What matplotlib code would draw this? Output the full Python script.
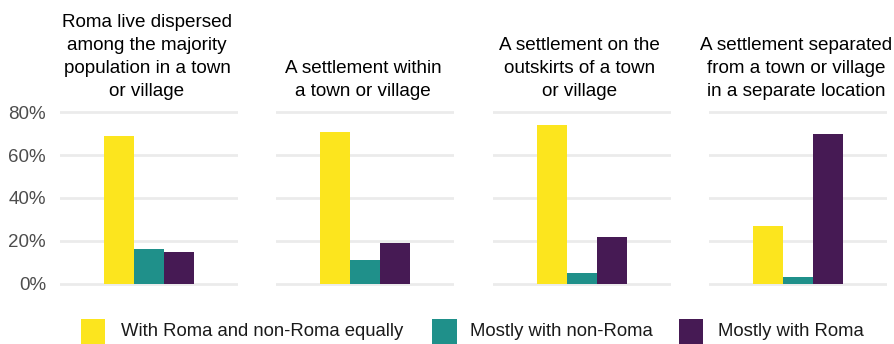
import matplotlib
matplotlib.use("Agg")
import matplotlib.pyplot as plt
from matplotlib.patches import Rectangle

plt.rcParams['font.family'] = ['Liberation Sans', 'DejaVu Sans']

panels = [
    "Roma live dispersed\namong the majority\npopulation in a town\nor village",
    "A settlement within\na town or village",
    "A settlement on the\noutskirts of a town\nor village",
    "A settlement separated\nfrom a town or village\nin a separate location",
]
series = ["With Roma and non-Roma equally", "Mostly with non-Roma", "Mostly with Roma"]
equally = [69, 71, 74, 27]
non_roma = [16, 11, 5, 3]
roma = [15, 19, 22, 70]
yticks = [0, 20, 40, 60, 80]
ytick_labels = ["0%", "20%", "40%", "60%", "80%"]

colors = ["#FCE51E", "#1F908A", "#461A54"]
values = [equally, non_roma, roma]

W, H = 895, 344
fig = plt.figure(figsize=(W / 100, H / 100), dpi=100)

ax_bottom_px = 285.8
ax_top_px = 110.2
ax_h = (ax_bottom_px - ax_top_px) / H
ax_b = 1 - ax_bottom_px / H
lefts_px = [60, 276.3, 492.7, 709]
pw = 178

for i, title in enumerate(panels):
    ax = fig.add_axes([lefts_px[i] / W, ax_b, pw / W, ax_h])
    for j in range(3):
        ax.bar(j - 1, values[j][i], width=1.0, color=colors[j], zorder=3, linewidth=0)
    ax.set_xlim(-2.967, 2.967)
    ax.set_ylim(-1, 81)
    ax.set_yticks(yticks)
    for t in yticks:
        ax.axhline(t, color="#EBEBEB", lw=2, zorder=1)
    ax.set_xticks([])
    for s in ax.spines.values():
        s.set_visible(False)
    ax.tick_params(axis="y", length=0, pad=10, labelsize=13.5, labelcolor="#4D4D4D")
    if i == 0:
        ax.set_yticklabels(ytick_labels)
    else:
        ax.set_yticklabels([])
    cx = (lefts_px[i] + pw / 2 - 2) / W
    fig.text(cx, 1 - 99.5 / H, title, ha="center", va="bottom", fontsize=13.6,
             color="black", linespacing=1.44, multialignment="center")

# legend
key_x = [81, 432, 679]
text_x = [121, 470, 718]
key_top = 319
key_size = 24.5
for k in range(3):
    fig.patches.append(Rectangle((key_x[k] / W, 1 - (key_top + key_size) / H), key_size / W, key_size / H,
                                 transform=fig.transFigure, color=colors[k], linewidth=0))
    fig.text(text_x[k] / W, 1 - 331 / H, series[k], ha="left", va="center", fontsize=13.3, color="#1A1A1A")

fig.savefig("out.png", dpi=100)
